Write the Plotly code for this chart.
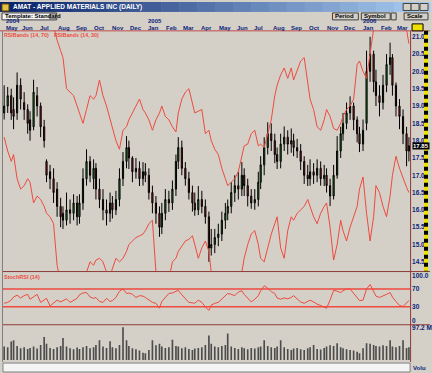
import plotly.graph_objects as go
import pandas as pd

W, H = 432, 373
def fx(x): return x / W
def fy(y): return 1 - y / H

# ---------------- data ----------------
dates = pd.bdate_range("2004-05-05", periods=124, freq="4B")

open_ = [18.8, 19.0, 19.3, 18.9, 18.8, 19.6, 19.1, 18.9, 18.6, 18.4, 19.3, 19.0, 18.4,
         17.4, 17.1, 16.9, 16.6, 16.1, 15.9, 15.7, 16.0, 15.9, 16.2, 15.8, 16.2, 16.9, 17.4, 16.9, 17.2, 16.6, 16.3, 16.0,
         15.9, 16.2, 16.0, 16.3, 16.9, 17.4, 17.8, 17.5, 17.1, 17.2, 16.9, 17.1, 17.0, 16.5, 16.2, 15.9,
         15.5, 15.9, 16.3, 16.2, 16.6, 17.4, 17.8, 17.2, 16.9, 16.5, 16.2, 16.0, 16.3, 16.1, 15.8,
         14.9, 15.0, 15.2, 15.3, 15.7, 15.9, 16.1, 16.5, 16.7, 16.6, 17.0, 16.7, 16.4, 16.2, 16.3, 16.8, 17.3,
         17.8, 18.2, 18.0, 17.6, 17.4, 17.9, 18.1, 17.9, 18.0, 17.8, 17.7, 17.4, 17.0, 16.9, 17.1, 17.0, 17.2, 16.9, 17.0, 16.7,
         16.4, 17.0, 17.7, 18.2, 18.5, 18.8, 19.0, 18.6, 18.2, 17.9, 18.5, 20.0, 20.5, 19.7, 19.3, 19.1, 19.6, 20.2, 20.4, 19.6,
         19.0, 18.7, 18.2, 17.7]
close = [19.0, 19.3, 18.8, 18.7, 19.6, 19.2, 18.9, 18.5, 18.3, 19.4, 19.0, 18.4, 18.0,
         17.0, 16.9, 16.5, 16.1, 15.8, 15.7, 16.0, 15.9, 16.2, 15.8, 16.2, 16.9, 17.4, 17.0, 17.2, 16.6, 16.3, 16.0, 15.9,
         16.2, 16.0, 16.3, 16.9, 17.4, 17.8, 17.5, 17.1, 17.2, 16.9, 17.1, 17.0, 16.5, 16.2, 15.9, 15.5,
         15.9, 16.3, 16.2, 16.6, 17.4, 17.8, 17.2, 16.9, 16.5, 16.2, 16.0, 16.3, 16.1, 15.8, 14.9,
         15.0, 15.2, 15.3, 15.7, 15.9, 16.1, 16.5, 16.7, 16.6, 17.0, 16.7, 16.4, 16.2, 16.3, 16.8, 17.3, 17.8,
         18.2, 18.0, 17.6, 17.4, 17.9, 18.1, 17.9, 18.0, 17.8, 17.7, 17.4, 17.0, 16.9, 17.1, 17.0, 17.2, 16.9, 17.0, 16.7, 16.4,
         17.0, 17.7, 18.2, 18.5, 18.8, 19.0, 18.6, 18.2, 17.9, 18.3, 20.0, 20.5, 19.7, 19.3, 19.1, 19.6, 20.2, 20.4, 19.6, 19.0,
         18.7, 18.2, 17.7, 17.85]
high = [19.6, 19.55, 19.5, 19.25, 19.97, 19.8, 19.4, 19.05, 18.85, 19.76, 19.55, 19.1, 18.6,
        17.46, 17.3, 17.2, 16.8, 16.35, 16.1, 16.5, 16.3, 16.45, 16.4, 16.45, 17.2, 17.75, 17.55, 17.46, 17.35, 16.9, 16.6, 16.3,
        16.5, 16.4, 16.55, 17.2, 17.67, 18.13, 18.0, 17.55, 17.5, 17.4, 17.38, 17.35, 17.2, 16.7, 16.4, 16.1,
        16.2, 16.6, 16.55, 16.85, 17.6, 18.1, 18.0, 17.38, 17.1, 16.7, 16.5, 16.69, 16.55, 16.3, 15.95,
        15.45, 15.45, 15.6, 15.95, 16.2, 16.3, 16.8, 17.0, 17.1, 17.38, 17.2, 16.9, 16.6, 16.6, 17.1, 17.55, 18.1,
        18.53, 18.5, 18.2, 17.8, 18.2, 18.41, 18.3, 18.35, 18.2, 18.05, 17.9, 17.55, 17.3, 17.46, 17.35, 17.46, 17.4, 17.3, 17.2, 16.9,
        17.3, 18.13, 18.4, 18.8, 19.1, 19.28, 19.1, 18.7, 18.4, 18.61, 20.6, 21.0, 20.6, 20.05, 19.6, 19.9, 20.5, 20.83, 20.5, 19.68,
        19.2, 18.9, 18.4, 18.1]
low = [18.61, 18.8, 18.6, 18.33, 18.6, 18.9, 18.6, 18.2, 18.0, 18.3, 18.7, 18.1, 17.8,
       16.8, 16.6, 16.2, 15.8, 15.5, 15.45, 15.55, 15.6, 15.7, 15.55, 15.6, 16.0, 16.7, 16.8, 16.6, 16.3, 16.05, 15.7, 15.55,
       15.65, 15.75, 15.85, 16.1, 16.69, 17.2, 17.18, 16.8, 16.9, 16.69, 16.7, 16.8, 16.3, 15.9, 15.6, 15.22,
       15.3, 15.7, 15.94, 16.0, 16.4, 17.18, 17.0, 16.7, 16.3, 15.95, 15.83, 15.85, 15.9, 15.6, 14.5,
       14.68, 14.75, 14.95, 15.1, 15.45, 15.7, 15.9, 16.23, 16.3, 16.4, 16.4, 16.1, 16.03, 16.0, 16.1, 16.6, 17.0,
       17.6, 17.7, 17.35, 17.18, 17.2, 17.7, 17.6, 17.65, 17.55, 17.5, 17.15, 16.75, 16.69, 16.7, 16.75, 16.8, 16.7, 16.69, 16.5, 16.11,
       16.3, 16.9, 17.5, 18.0, 18.33, 18.6, 18.3, 17.95, 17.67, 17.7, 18.3, 19.7, 19.4, 19.0, 18.7, 18.9, 19.4, 19.9, 19.3, 18.7,
       18.33, 17.9, 17.26, 17.4]

rsi_band_70 = [22.6, 22.9, 23.2, 23.0, 22.5, 22.7, 23.1, 23.4, 23.0, 22.4, 22.8, 23.0, 22.6, 22.2, 21.8,
               21.3, 20.9, 20.6, 20.4, 19.5, 19.4, 19.3, 19.0, 18.8, 18.5, 18.9, 19.3, 19.2, 19.3, 19.75, 19.3, 19.0,
               18.6, 18.35, 18.0, 17.75, 18.3, 18.4, 18.6, 18.8, 19.0, 19.2, 18.9, 18.8, 18.6, 18.3, 18.6, 18.8,
               19.0, 18.7, 18.6, 18.4, 18.25, 18.8, 19.2, 19.4, 19.5, 19.1, 18.8, 18.85, 18.9, 18.2, 18.3,
               18.0, 17.75, 17.6, 17.2, 16.9, 16.7, 16.8, 16.9, 17.1, 17.5, 17.85, 17.9, 18.2, 18.3, 17.85, 17.9, 17.8,
               18.2, 18.6, 19.3, 19.6, 19.9, 20.1, 19.8, 20.1, 19.75, 20.0, 20.3, 20.4, 19.6, 19.2, 18.9, 18.4, 18.3, 18.6, 18.9, 18.7,
               18.35, 18.3, 18.5, 18.7, 18.9, 19.0, 19.2, 20.2, 20.3, 20.0, 19.8, 20.6, 21.3, 21.9, 22.4, 22.8, 23.1, 23.3, 22.9, 22.5,
               22.2, 21.7, 21.2, 20.8]
rsi_band_30 = [18.1, 17.7, 17.4, 17.6, 16.9, 16.6, 16.7, 16.9, 16.8, 16.2, 16.4, 16.3, 16.1,
               15.9, 15.8, 15.6, 14.4, 13.9, 13.8, 13.6, 13.9, 13.7, 13.5, 13.8, 14.0, 14.2, 14.5, 14.4, 14.55, 14.6, 14.5, 14.2,
               14.1, 14.3, 14.6, 14.5, 14.6, 14.8, 15.0, 15.1, 15.2, 15.25, 15.3, 15.4, 15.6, 15.7, 14.2, 13.7,
               13.5, 13.8, 14.0, 14.5, 14.6, 14.8, 14.95, 15.1, 15.15, 15.25, 15.0, 14.6, 14.9, 15.1, 14.8,
               14.2, 13.9, 13.6, 13.4, 13.2, 13.3, 13.5, 13.6, 13.9, 14.2, 14.6, 15.0, 15.3, 15.4, 15.0, 14.6, 14.5,
               14.9, 15.3, 15.6, 15.8, 14.9, 14.6, 15.4, 15.8, 15.7, 15.9, 16.0, 16.1, 16.3, 16.1, 15.8, 15.6, 15.9, 16.1, 16.2, 15.5,
               14.55, 15.0, 15.7, 15.4, 15.1, 15.5, 15.8, 16.1, 16.6, 16.95, 15.9, 15.1, 15.8, 16.7, 16.5, 16.1, 15.8, 16.4, 17.0, 17.55,
               17.2, 16.9, 16.65, 16.5]
stoch_rsi = [38, 40, 45, 52, 56, 50, 55, 58, 47, 52, 58, 40, 45,
             49, 32, 38, 45, 41, 44, 48, 40, 45, 49, 57, 61, 62, 52, 49, 51, 42, 40, 49,
             42, 44, 51, 65, 70, 60, 61, 58, 51, 55, 54, 51, 45, 40, 38, 27,
             42, 52, 60, 61, 64, 67, 57, 48, 40, 39, 38, 45, 40, 30, 22,
             34, 38, 40, 48, 54, 60, 58, 55, 63, 66, 58, 50, 41, 47, 55, 66, 77,
             72, 64, 60, 50, 47, 50, 48, 51, 55, 48, 41, 38, 42, 45, 41, 36, 33, 30, 27, 45,
             67, 65, 62, 66, 70, 70, 60, 52, 44, 45, 70, 80, 66, 54, 51, 54, 58, 62, 52, 42,
             33, 31, 40, 44]
volume_m = [40, 38, 55, 59, 42, 35, 38, 33, 36, 40, 34, 45, 68,
            48, 36, 33, 38, 42, 65, 40, 35, 32, 37, 33, 38, 42, 35, 38, 45, 59, 40, 36,
            56, 38, 35, 45, 97, 59, 42, 35, 32, 28, 22, 20, 30, 59, 44, 48,
            40, 36, 38, 60, 42, 40, 35, 38, 33, 30, 34, 36, 38, 45, 73,
            48, 40, 38, 42, 45, 79, 40, 36, 33, 38, 35, 32, 36, 34, 38, 40, 59,
            42, 38, 36, 40, 59, 38, 33, 30, 34, 36, 32, 30, 35, 38, 45, 33, 31, 36, 40, 44,
            42, 50, 38, 35, 32, 30, 28, 25, 20, 35, 50, 48, 45, 42, 40, 44, 42, 59, 40, 38,
            42, 59, 36, 38]

price_ticks = [14.5, 15.0, 15.5, 16.0, 16.5, 17.0, 17.5, 18.0, 18.5, 19.0, 19.5, 20.0, 20.5, 21.0]
stoch_ticks = [0, 30, 70, 100]
stoch_tick_text = ["0", "30", "70", "100.0"]
last_price = 17.85
vol_max = 97.2
month_starts = [dates[0]] + list(pd.date_range("2004-06-01", "2006-03-01", freq="MS"))
year_marks = [dates[0], pd.Timestamp("2005-01-01"), pd.Timestamp("2006-01-01")]

# ---------------- figure ----------------
BG = "#D4D0C8"
NAVY = "#0B1F7A"
RED = "#EE4A3E"
FRAME = "#8E3A36"
FONT = "Liberation Sans, Arial, sans-serif"
xrange_ = ["2004-05-03", "2006-03-26"]

fig = go.Figure()
fig.add_trace(go.Candlestick(
    x=dates, open=open_, high=high, low=low, close=close,
    increasing=dict(line=dict(color="#000000", width=1), fillcolor="#1C9C1C"),
    decreasing=dict(line=dict(color="#000000", width=1), fillcolor="#D41C1C"),
    whiskerwidth=0, showlegend=False, hoverinfo="skip", xaxis="x", yaxis="y"))
fig.add_trace(go.Scatter(x=dates, y=rsi_band_70, mode="lines", line=dict(color=RED, width=1),
                         showlegend=False, hoverinfo="skip", xaxis="x", yaxis="y"))
fig.add_trace(go.Scatter(x=dates, y=rsi_band_30, mode="lines", line=dict(color=RED, width=1),
                         showlegend=False, hoverinfo="skip", xaxis="x", yaxis="y"))
fig.add_trace(go.Scatter(x=dates, y=stoch_rsi, mode="lines", line=dict(color=RED, width=1),
                         showlegend=False, hoverinfo="skip", xaxis="x2", yaxis="y2"))
fig.add_trace(go.Bar(x=dates, y=volume_m, marker=dict(color="#4C4C4C", line=dict(width=0)),
                     showlegend=False, hoverinfo="skip", xaxis="x3", yaxis="y3"))

xax = dict(range=xrange_, domain=[fx(3), fx(412)], showticklabels=False, showgrid=False,
           zeroline=False, showline=False, ticks="", rangeslider=dict(visible=False))
tickfont = dict(family=FONT, size=6.5, color=NAVY, weight="bold")
fig.update_layout(
    width=W, height=H, margin=dict(l=0, r=0, t=0, b=0),
    paper_bgcolor=BG, plot_bgcolor=BG, bargap=0.3,
    xaxis=dict(xax, anchor="y"),
    xaxis2=dict(xax, anchor="y2"),
    xaxis3=dict(xax, anchor="y3"),
    yaxis=dict(domain=[fy(271), fy(29)], range=[14.218, 21.172], side="right", anchor="x",
               tickvals=price_ticks, tickformat=".1f", ticks="", showgrid=False, zeroline=False,
               showline=False, tickfont=tickfont, ticklabelstandoff=1),
    yaxis2=dict(domain=[fy(324), fy(272)], range=[-8.9, 106.7], side="right", anchor="x2",
                tickvals=stoch_ticks, ticktext=stoch_tick_text, ticks="", showgrid=False,
                zeroline=False, showline=False, tickfont=tickfont, ticklabelstandoff=1),
    yaxis3=dict(domain=[fy(361), fy(325)], range=[-2.95, 103.1], side="right", anchor="x3",
                tickvals=[vol_max], ticktext=[f"{vol_max} M"], ticks="", showgrid=False,
                zeroline=False, showline=False, tickfont=tickfont, ticklabelstandoff=1),
)

shapes = []
def rect(x0, y0, x1, y1, fill, line=None, lw=0):
    shapes.append(dict(type="rect", xref="paper", yref="paper", x0=fx(x0), x1=fx(x1), y0=fy(y1), y1=fy(y0),
                       fillcolor=fill, line=dict(color=line or fill, width=lw), layer="above"))
def hline(y, x0, x1, color, w=1, dash="solid"):
    shapes.append(dict(type="line", xref="paper", yref="paper", x0=fx(x0), x1=fx(x1), y0=fy(y), y1=fy(y),
                       line=dict(color=color, width=w, dash=dash), layer="above"))
def vline(x, y0, y1, color, w=1, dash="solid"):
    shapes.append(dict(type="line", xref="paper", yref="paper", x0=fx(x), x1=fx(x), y0=fy(y0), y1=fy(y1),
                       line=dict(color=color, width=w, dash=dash), layer="above"))

# title bar gradient
steps = 24
c0 = (10, 36, 106); c1 = (166, 202, 240)
for k in range(steps):
    t = k / (steps - 1)
    col = "rgb(%d,%d,%d)" % tuple(int(a + (b - a) * t) for a, b in zip(c0, c1))
    rect(k * W / steps, 0, (k + 1) * W / steps + 0.5, 10, col)
rect(2, 2, 9, 9, "#E8C040", "#6A4A00", 1)
for bx in (405, 413, 422):
    rect(bx, 1.5, bx + 8, 8.5, "#D4D0C8", "#404040", 1)
# toolbar
rect(2, 11, 57, 18, "#F4F4F4", "#404040", 1)
rect(50, 12, 56, 17, "#D4D0C8", "#606060", 1)
for bx0, bx1 in ((334, 360), (363, 392), (393, 398), (406, 430)):
    rect(bx0, 11, bx1, 18, "#D4D0C8", "#404040", 1)
# panel frame lines
hline(29, 0, 432, "#C04848", 1)
hline(271, 3, 432, FRAME, 1)
hline(324.5, 3, 432, FRAME, 1)
vline(412.5, 29, 362, FRAME, 1)
vline(2.5, 29, 362, "#808080", 1)
for lv in (70, 30):
    shapes.append(dict(type="line", xref="paper", yref="y2", x0=fx(3), x1=fx(412), y0=lv, y1=lv,
                       line=dict(color=RED, width=1.5), layer="above"))
# right strip
vline(428, 29, 271, "#F0E000", 4)
vline(428, 29, 271, "#000000", 4, dash="4px,4px")
rect(414, 22, 425, 29, "#F0E000", "#000000", 1)
# bottom scroll box
rect(3, 363, 412, 372, "#F4F4F4", "#808080", 1)
fig.update_layout(shapes=shapes)

ann = []
def text(x, y, s, color="#000000", size=7, anchor="left", bold=False, bg=None):
    ann.append(dict(xref="paper", yref="paper", x=fx(x), y=fy(y), text=("<b>%s</b>" % s) if bold else s,
                    showarrow=False, xanchor=anchor, yanchor="middle",
                    font=dict(family=FONT, size=size, color=color), bgcolor=bg, borderpad=0))

text(12, 5, "AMAT - APPLIED MATERIALS INC (DAILY)", "#FFFFFF", 6.5, bold=True)
text(4, 14.5, "Template: Standard", "#000000", 6, bold=True)
text(336, 14.5, "Period", "#000000", 6, bold=True)
text(365, 14.5, "Symbol", "#000000", 6, bold=True)
text(408, 14.5, "Scale", "#000000", 6, bold=True)
for d in month_starts:
    ann.append(dict(xref="x", yref="paper", x=d, y=fy(26), text="<b>%s</b>" % d.strftime("%b"),
                    showarrow=False, xanchor="left", yanchor="middle",
                    font=dict(family=FONT, size=6, color=NAVY)))
for d in year_marks:
    ann.append(dict(xref="x", yref="paper", x=d, y=fy(18.8), text="<b>%s</b>" % d.strftime("%Y"),
                    showarrow=False, xanchor="left", yanchor="middle",
                    font=dict(family=FONT, size=6, color=NAVY)))
text(3, 33, "RSIBands (14, 70)", RED, 5.3, bold=True)
text(53, 33, "RSIBands (14, 30)", RED, 5.3, bold=True)
text(3, 276, "StochRSI (14)", RED, 5.5, bold=True)
ann.append(dict(xref="paper", yref="y", x=fx(413.5), y=last_price, text="<b>%.2f</b>" % last_price,
                showarrow=False, xanchor="left", yanchor="middle", bgcolor="#000000",
                font=dict(family=FONT, size=6, color="#FFFFFF"), borderpad=0))
text(414, 367.5, "Volu", NAVY, 6, bold=True)
fig.update_layout(annotations=ann)

fig.write_html("out.html", config={"displayModeBar": False, "staticPlot": True},
               post_script="document.body.style.margin='0';document.body.style.overflow='hidden';")
